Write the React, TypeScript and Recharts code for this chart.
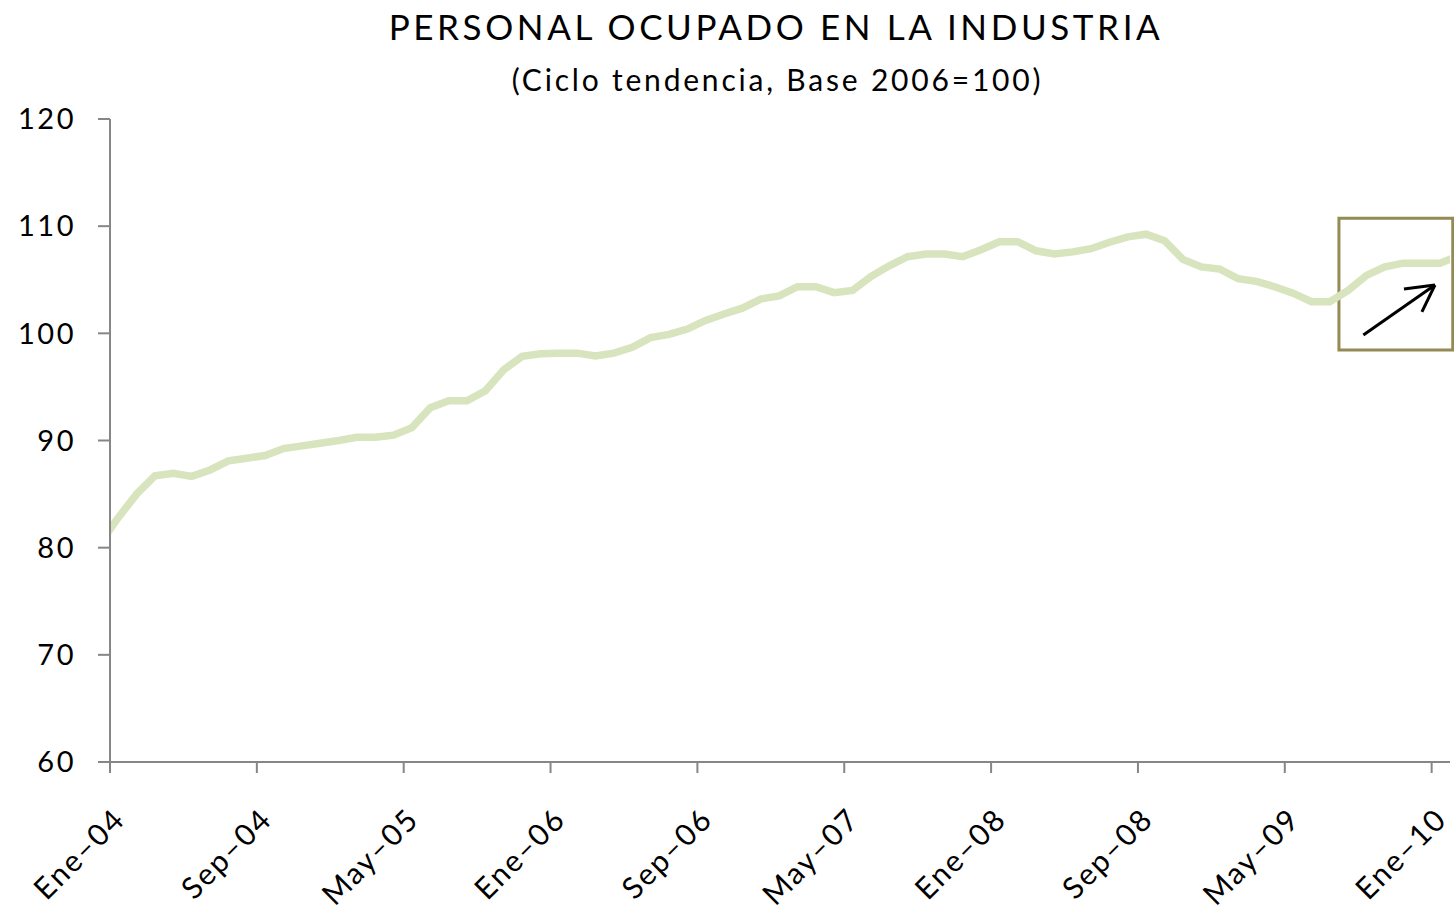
import { LineChart, Line, XAxis, YAxis, ReferenceArea, ReferenceLine } from "recharts";

// monthly values, Dic-03 .. Feb-10 (first and last are clipped by the axis)
const months = [
  "Dic-03",
  "Ene-04", "Feb-04", "Mar-04", "Abr-04", "May-04", "Jun-04", "Jul-04", "Ago-04", "Sep-04", "Oct-04", "Nov-04", "Dic-04",
  "Ene-05", "Feb-05", "Mar-05", "Abr-05", "May-05", "Jun-05", "Jul-05", "Ago-05", "Sep-05", "Oct-05", "Nov-05", "Dic-05",
  "Ene-06", "Feb-06", "Mar-06", "Abr-06", "May-06", "Jun-06", "Jul-06", "Ago-06", "Sep-06", "Oct-06", "Nov-06", "Dic-06",
  "Ene-07", "Feb-07", "Mar-07", "Abr-07", "May-07", "Jun-07", "Jul-07", "Ago-07", "Sep-07", "Oct-07", "Nov-07", "Dic-07",
  "Ene-08", "Feb-08", "Mar-08", "Abr-08", "May-08", "Jun-08", "Jul-08", "Ago-08", "Sep-08", "Oct-08", "Nov-08", "Dic-08",
  "Ene-09", "Feb-09", "Mar-09", "Abr-09", "May-09", "Jun-09", "Jul-09", "Ago-09", "Sep-09", "Oct-09", "Nov-09", "Dic-09",
  "Ene-10", "Feb-10",
];

const personal = [
  80.4,
  82.8, 85.0, 86.7, 86.95, 86.65, 87.25, 88.1, 88.35, 88.6, 89.25, 89.5, 89.75,
  90.0, 90.3, 90.3, 90.5, 91.2, 93.05, 93.7, 93.7, 94.65, 96.6, 97.85, 98.1,
  98.15, 98.15, 97.9, 98.15, 98.7, 99.6, 99.9, 100.4, 101.2, 101.8, 102.35, 103.2,
  103.5, 104.35, 104.35, 103.8, 104.0, 105.3, 106.3, 107.15, 107.4, 107.4, 107.15, 107.8,
  108.55, 108.55, 107.7, 107.4, 107.6, 107.9, 108.5, 109.0, 109.25, 108.65, 106.9, 106.2,
  106.0, 105.1, 104.85, 104.35, 103.75, 102.95, 102.95, 104.0, 105.4, 106.2, 106.55, 106.55,
  106.55, 107.2,
];

const xTicks = [0, 8, 16, 24, 32, 40, 48, 56, 64, 72];
const xTickLabels = ["Ene–04", "Sep–04", "May–05", "Ene–06", "Sep–06", "May–07", "Ene–08", "Sep–08", "May–09", "Ene–10"];
const yTicks = [60, 70, 80, 90, 100, 110, 120];

const FONT = "Lato, 'Open Sans', sans-serif";

// each value sits a little past the start of its month
const data = personal.map((v, i) => ({ m: months[i], x: i - 1 + 0.45, v }));

function XTick({ x, y, payload }: { x?: number; y?: number; payload?: { value: number } }) {
  const idx = xTicks.indexOf(payload?.value ?? -1);
  return (
    <g transform={`translate(${(x ?? 0) + 17},${(y ?? 0) + 46})`}>
      <text x={0} y={0} textAnchor="end" transform="rotate(-45)" fontSize={30} letterSpacing={2} fill="#000" fontFamily={FONT}>
        {xTickLabels[idx]}
      </text>
    </g>
  );
}

export default function App() {
  return (
    <div style={{ position: "absolute", left: 0, top: 0, width: 1454, height: 913, background: "#fff", fontFamily: FONT }}>
      <div style={{ position: "absolute", left: 0, width: 1552, top: 5, textAlign: "center", fontSize: 35, letterSpacing: 3.6, color: "#000" }}>
        PERSONAL OCUPADO EN LA INDUSTRIA
      </div>
      <div style={{ position: "absolute", left: 0, width: 1555, top: 61, textAlign: "center", fontSize: 30, letterSpacing: 2.8, color: "#000" }}>
        (Ciclo tendencia, Base 2006=100)
      </div>
      <LineChart width={1454} height={913} data={data} margin={{ top: 119, right: 4, bottom: 0, left: 0 }}>
        <XAxis
          dataKey="x"
          type="number"
          domain={[0, 73]}
          allowDataOverflow
          ticks={xTicks}
          interval={0}
          tick={<XTick />}
          tickSize={11}
          height={151}
          stroke="#868686"
          strokeWidth={2}
        />
        <YAxis
          type="number"
          domain={[60, 120]}
          ticks={yTicks}
          interval={0}
          width={110}
          tickSize={12}
          tickMargin={22}
          stroke="#868686"
          strokeWidth={2}
          tick={{ fontSize: 29, fill: "#000", fontFamily: FONT, letterSpacing: 2.5 }}
        />
        <Line
          dataKey="v"
          stroke="#D7E4BD"
          strokeWidth={7.5}
          dot={false}
          activeDot={false}
          strokeLinejoin="miter"
          isAnimationActive={false}
        />
        <ReferenceArea
          x1={66.95}
          x2={73.15}
          y1={98.45}
          y2={110.75}
          ifOverflow="visible"
          fill="none"
          fillOpacity={0}
          stroke="#948A54"
          strokeWidth={3}
        />
        <ReferenceLine segment={[{ x: 68.28, y: 99.85 }, { x: 72.18, y: 104.51 }]} stroke="#000" strokeWidth={3} ifOverflow="visible" />
        <ReferenceLine segment={[{ x: 72.18, y: 104.51 }, { x: 70.49, y: 104.14 }]} stroke="#000" strokeWidth={3} ifOverflow="visible" />
        <ReferenceLine segment={[{ x: 72.18, y: 104.51 }, { x: 71.47, y: 102.0 }]} stroke="#000" strokeWidth={3} ifOverflow="visible" />
      </LineChart>
    </div>
  );
}
